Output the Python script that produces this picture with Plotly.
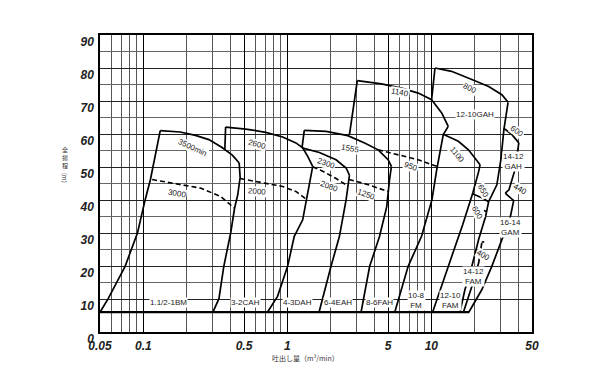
import numpy as np
import plotly.graph_objects as go

# ---------------- data (Q in m3/min, H in m) ----------------
X_TICKS = [0.05, 0.1, 0.5, 1, 5, 10, 50]
X_TICK_TEXT = ["0.05", "0.1", "0.5", "1", "5", "10", "50"]
X_MINOR = [0.06, 0.07, 0.08, 0.09, 0.2, 0.3, 0.4, 0.6, 0.7, 0.8, 0.9,
           2, 3, 4, 6, 7, 8, 9, 20, 30, 40]
Y_TICKS = [0, 10, 20, 30, 40, 50, 60, 70, 80, 90]
Y_MINOR = [15, 25, 35, 45, 55, 65, 75, 85]

BASE_Q = [0.05, 18.3]
BASE_H = [6, 6]

# 1.1/2-1BM
L0_Q = [0.05, 0.057, 0.0747, 0.091, 0.103, 0.112, 0.131]
L0_H = [6, 10.1, 19.9, 30, 40.1, 46.2, 61]
T3500_Q = [0.131, 0.18, 0.23, 0.285, 0.35, 0.415, 0.463]
T3500_H = [61, 60.6, 59.6, 58.3, 56, 53.6, 51.2]
L1_Q = [0.463, 0.47, 0.452, 0.43, 0.404, 0.362, 0.335, 0.304]
L1_H = [51.2, 46.8, 41.5, 37.5, 30, 19.9, 10.1, 6]
D3000_Q = [0.115, 0.171, 0.249, 0.344, 0.43]
D3000_H = [46.2, 44.9, 43.6, 41.1, 37.5]

# 3-2CAH
S2_Q = [0.3726, 0.368]
S2_H = [62.1, 55.2]
T2600_Q = [0.3726, 0.514, 0.709, 0.927, 1.147, 1.278, 1.385, 1.50]
T2600_H = [62.1, 61.5, 60.5, 59.1, 57.3, 55.8, 53.2, 50.2]
L2_Q = [1.50, 1.348, 1.278, 1.117, 1.004, 0.855, 0.727]
L2_H = [50.2, 40.1, 34, 29, 19.9, 10.8, 6]
D2000_Q = [0.47, 0.672, 0.927, 1.147, 1.348]
D2000_H = [46.5, 45.3, 44.1, 42.6, 40.3]

# 4-3DAH
T2300_Q = [1.264, 1.669, 2.18, 2.56, 2.70]
T2300_H = [55.8, 54.4, 52.2, 49.7, 47.5]
L3_Q = [2.70, 2.56, 2.30, 2.01, 1.66]
L3_H = [47.5, 40.1, 29, 19.9, 6]
D2080_Q = [1.50, 1.762, 2.18, 2.63]
D2080_H = [50.1, 48.7, 46.5, 44.3]

# 6-4EAH
S4_Q = [1.311, 1.264]
S4_H = [61.1, 55.8]
T1555_Q = [1.311, 1.858, 2.63, 3.44, 4.27, 5.01, 5.28]
T1555_H = [61.1, 60.8, 59.5, 57.3, 55.2, 52.2, 50.2]
L4_Q = [5.28, 5.12, 4.9, 4.37, 3.73, 3.25]
L4_H = [50.2, 46, 38, 29, 19.9, 6]
D1250_Q = [2.68, 3.54, 5.0]
D1250_H = [46.2, 44.8, 42.6]

# 8-6FAH
S5_Q = [3.06, 2.70]
S5_H = [76.2, 59.8]
T1140_Q = [3.06, 4.50, 6.20, 8.11, 10.04, 11.8, 13.1]
T1140_H = [76.2, 75.2, 73.9, 72.4, 70.4, 66.4, 62.3]
L5_Q = [13.1, 12.1, 10.9, 10.1, 8.55, 6.9, 5.57]
L5_H = [62.3, 59.8, 49.2, 40.1, 29, 19.9, 6]
D950_Q = [4.27, 5.88, 8.11, 10.04, 11.0]
D950_H = [55.2, 53.7, 52.2, 50.7, 50.2]

# 10-8FM
T1100_Q = [12.3, 15.4, 18.1, 20.1, 21.8]
T1100_H = [59.8, 57.8, 55.2, 52.7, 50.7]
L6_Q = [21.8, 21.3, 19.4, 16.5, 13.6, 11.8, 10.2]
L6_H = [50.7, 48.6, 42.1, 32.5, 21.9, 14.3, 6]

# 12-10GAH
S6_Q = [10.6, 10.04]
S6_H = [80, 70.4]
T800_Q = [10.6, 13.8, 19.1, 25.0, 30.9, 34.1]
T800_H = [80, 79.0, 76.5, 74.4, 71.9, 69.6]
R800_Q = [34.1, 31.9, 30.4, 28.5, 25.0]
R800_H = [69.6, 61.3, 52.2, 44.6, 39.5]

# 14-12GAH
T600G_Q = [31.8, 36.3, 40.5]
T600G_H = [61.8, 59.8, 57.3]
R600G_Q = [40.5, 38.1, 34.6, 32.6]
R600G_H = [57.3, 49.2, 43.1, 42.1]

# 16-14GAM
T440_Q = [32.6, 37.3]
T440_H = [42.1, 39.8]
R440_Q = [37.3, 35.4, 30.9, 26.3, 22.4, 18.2]
R440_H = [39.8, 35, 28, 19.9, 12.8, 6]

# 12-10FAM
T650_Q = [19.3, 22.4, 25.0]
T650_H = [41.9, 40.7, 39.5]
R650_Q = [25.0, 23.8, 21.3, 19.1, 17.1, 15.8]
R650_H = [39.5, 35, 28, 19.9, 12.8, 6]

# 14-12FAM
L8_Q = [16.7, 19.1, 21.3, 22.4]
L8_H = [6, 13.8, 20.9, 27]
TICK400_Q = [22.4, 23.3]
TICK400_H = [27.3, 27.3]
TICK600_Q = [23.2, 24.1]
TICK600_H = [36.8, 36.5]

SOLID = [
    (L0_Q, L0_H), (T3500_Q, T3500_H), (L1_Q, L1_H),
    (S2_Q, S2_H), (T2600_Q, T2600_H), (L2_Q, L2_H),
    (T2300_Q, T2300_H), (L3_Q, L3_H),
    (S4_Q, S4_H), (T1555_Q, T1555_H), (L4_Q, L4_H),
    (S5_Q, S5_H), (T1140_Q, T1140_H), (L5_Q, L5_H),
    (T1100_Q, T1100_H), (L6_Q, L6_H),
    (S6_Q, S6_H), (T800_Q, T800_H), (R800_Q, R800_H),
    (T600G_Q, T600G_H), (R600G_Q, R600G_H),
    (T440_Q, T440_H), (R440_Q, R440_H),
    (T650_Q, T650_H), (R650_Q, R650_H),
    (L8_Q, L8_H), (TICK400_Q, TICK400_H), (TICK600_Q, TICK600_H),
]
DASHED = [(D3000_Q, D3000_H), (D2000_Q, D2000_H), (D2080_Q, D2080_H),
          (D1250_Q, D1250_H), (D950_Q, D950_H)]

# model labels (text, Q, H)
MODEL_LABELS = [
    ("1.1/2-1BM", 0.150, 8.8), ("3-2CAH", 0.514, 8.8), ("4-3DAH", 1.18, 8.8),
    ("6-4EAH", 2.24, 8.8), ("8-6FAH", 4.37, 8.8), ("10-8<br>FM", 7.89, 9.5),
    ("12-10<br>FAM", 13.5, 9.6), ("14-12<br>FAM", 19.6, 16.8),
    ("16-14<br>GAM", 35.4, 31.8), ("12-10GAH", 20.1, 65.8),
    ("14-12<br>GAH", 37.3, 51.8),
]
# speed labels (text, Q, H, angle)
SPEED_LABELS = [
    ("3500min", 0.218, 55.8, 25), ("3000", 0.171, 41.9, 10),
    ("2600", 0.62, 56.8, 15), ("2000", 0.62, 42.6, 5),
    ("2300", 1.86, 51.0, 20), ("2080", 1.96, 44.1, 20),
    ("1555", 2.73, 55.5, 10), ("1250", 3.54, 41.6, 20),
    ("1140", 6.04, 72.6, 10), ("950", 7.2, 50.2, 20),
    ("800", 18.6, 73.9, 25), ("1100", 15.0, 53.7, 50),
    ("600", 39.4, 60.8, 35), ("650", 23.0, 42.6, 60),
    ("600", 20.7, 36.1, 60), ("400", 23.0, 23.1, 30),
    ("440", 41.5, 43.1, 30),
]

# ---------------- figure ----------------
# the page body has an 8 px margin, so the figure is 8 px smaller and shifted
FONT = "Liberation Sans, Arial, sans-serif"
JP = "Noto Sans CJK JP"
W, H = 592, 374
ML, MR, MT, MB = 92, 68, 27, 50
PW, PH = W - ML - MR, H - MT - MB

fig = go.Figure()

fig.add_trace(go.Scatter(x=BASE_Q, y=BASE_H, mode="lines",
                         line=dict(color="black", width=2.2),
                         hoverinfo="skip", showlegend=False))
for q, h in SOLID:
    fig.add_trace(go.Scatter(x=q, y=h, mode="lines",
                             line=dict(color="black", width=1.7),
                             hoverinfo="skip", showlegend=False))
for q, h in DASHED:
    fig.add_trace(go.Scatter(x=q, y=h, mode="lines",
                             line=dict(color="black", width=1.6, dash="5px,3px"),
                             hoverinfo="skip", showlegend=False))

ann = []
for t, q, h in MODEL_LABELS:
    ann.append(dict(x=np.log10(q), y=h, text=t, showarrow=False,
                    font=dict(family=FONT, size=8, color="#222"),
                    bgcolor="white", borderpad=0))
for t, q, h, a in SPEED_LABELS:
    ann.append(dict(x=np.log10(q), y=h, text=t, showarrow=False, textangle=a,
                    font=dict(family=FONT, size=8, color="#222"),
                    bgcolor="white", borderpad=0))


def px(xp, yp):
    """page pixel -> paper coords"""
    return (xp - 8 - ML) / PW, (H - MB - (yp - 8)) / PH


# axis titles (explicit centre anchoring)
x0, y0 = px(305, 358)
ann.append(dict(xref="paper", yref="paper", x=x0, y=y0, xanchor="center", yanchor="middle",
                text="吐出し量（m³/min）", showarrow=False,
                font=dict(family=JP, size=7, color="#333")))
for ch, yy in zip(["全", "揚", "程"], [149, 157, 165]):
    x0, y0 = px(65, yy)
    ann.append(dict(xref="paper", yref="paper", x=x0, y=y0, text=ch,
                    xanchor="center", yanchor="middle",
                    showarrow=False, font=dict(family=JP, size=6, color="#333"),
                    height=8, valign="middle"))
x0, y0 = px(65, 178)
ann.append(dict(xref="paper", yref="paper", x=x0, y=y0,
                xanchor="center", yanchor="middle",
                text="（m）", showarrow=False, textangle=90,
                font=dict(family=JP, size=6, color="#333")))

fig.update_layout(
    width=W, height=H,
    margin=dict(l=ML, r=MR, t=MT, b=MB, autoexpand=False),
    paper_bgcolor="white", plot_bgcolor="white",
    annotations=ann,
    showlegend=False,
)
TICKFONT = dict(family=FONT, size=12, color="#222", style="italic", weight="bold")
fig.update_xaxes(
    type="log", range=[np.log10(0.05), np.log10(50)],
    tickvals=X_TICKS, ticktext=X_TICK_TEXT, ticks="", ticklen=0,
    tickfont=TICKFONT, ticklabelstandoff=2,
    showgrid=True, gridcolor="black", gridwidth=1.4,
    minor=dict(tickvals=X_MINOR, showgrid=True, gridcolor="#555", gridwidth=0.8, ticks=""),
    showline=True, mirror=True, linecolor="black", linewidth=1.5, zeroline=False,
    automargin=False,
)
fig.update_yaxes(
    range=[0, 90], tickvals=Y_TICKS, ticks="", ticklen=0,
    tickfont=TICKFONT, ticklabelstandoff=2,
    showgrid=True, gridcolor="#222", gridwidth=1.1,
    minor=dict(tickvals=Y_MINOR, showgrid=True, gridcolor="#666", gridwidth=0.7, ticks=""),
    showline=True, mirror=True, linecolor="black", linewidth=1.5, zeroline=False,
    ticklabelshift=7, automargin=False,
)

fig.write_html("out.html")
